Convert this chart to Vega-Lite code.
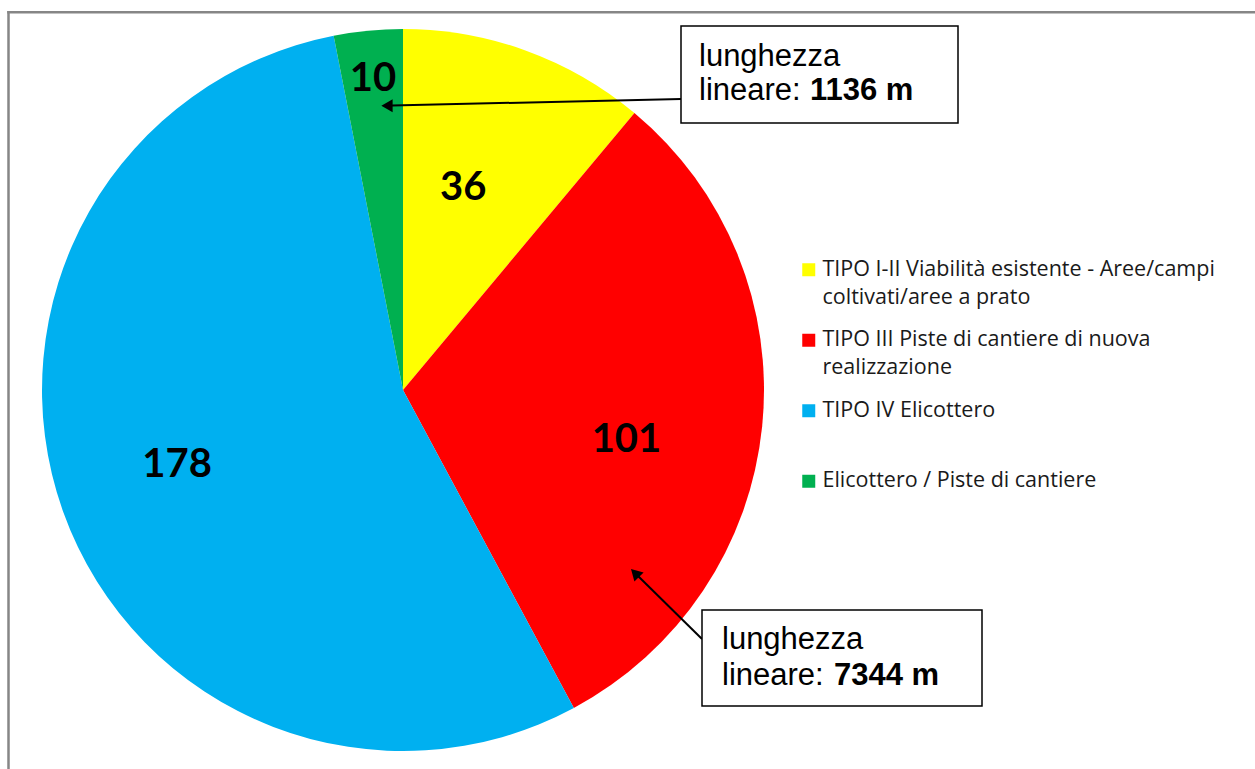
{
  "$schema": "https://vega.github.io/schema/vega-lite/v6.json",
  "width": 1255,
  "height": 769,
  "padding": 0,
  "autosize": {"type": "none"},
  "background": "white",
  "config": {"view": {"stroke": null}},
  "datasets": {
    "slices": [
      {"category": "TIPO I-II Viabilità esistente - Aree/campi coltivati/aree a prato", "value": 36, "ord": 1},
      {"category": "TIPO III Piste di cantiere di nuova realizzazione", "value": 101, "ord": 2},
      {"category": "TIPO IV Elicottero", "value": 178, "ord": 3},
      {"category": "Elicottero / Piste di cantiere", "value": 10, "ord": 4}
    ],
    "one": [{}]
  },
  "layer": [
    {
      "data": {"name": "one"},
      "mark": {"type": "rule", "color": "#868686", "strokeWidth": 2.5},
      "encoding": {
        "x": {"datum": 8.5, "type": "quantitative", "scale": {"domain": [0, 1255], "nice": false, "zero": false}, "axis": null},
        "y": {"datum": 11, "type": "quantitative", "scale": {"domain": [0, 769], "nice": false, "zero": false, "reverse": true}, "axis": null},
        "y2": {"datum": 769}
      }
    },
    {
      "data": {"name": "one"},
      "mark": {"type": "rule", "color": "#868686", "strokeWidth": 2.5},
      "encoding": {
        "x": {"datum": 7.25, "type": "quantitative"},
        "x2": {"datum": 1255},
        "y": {"datum": 12.3, "type": "quantitative"}
      }
    },
    {
      "data": {"name": "slices"},
      "mark": {"type": "arc", "outerRadius": 361},
      "encoding": {
        "x": {"datum": 403, "type": "quantitative"},
        "y": {"datum": 390, "type": "quantitative"},
        "theta": {"field": "value", "type": "quantitative", "stack": true},
        "order": {"field": "ord", "type": "quantitative"},
        "color": {
          "field": "category",
          "type": "nominal",
          "sort": null,
          "scale": {
            "domain": [
              "TIPO I-II Viabilità esistente - Aree/campi coltivati/aree a prato",
              "TIPO III Piste di cantiere di nuova realizzazione",
              "TIPO IV Elicottero",
              "Elicottero / Piste di cantiere"
            ],
            "range": ["#FFFF00", "#FF0000", "#00B0F0", "#00B050"]
          },
          "legend": {
            "orient": "none",
            "legendX": 798,
            "legendY": 259,
            "title": null,
            "padding": 0,
            "symbolType": "square",
            "symbolSize": 169,
            "symbolStrokeWidth": 0,
            "symbolOpacity": 1,
            "labelFont": "Open Sans",
            "labelFontSize": 21.5,
            "labelColor": "#1a1a1a",
            "labelOffset": 3,
            "labelLimit": 700,
            "rowPadding": 19.5,
            "labelExpr": "datum.label == 'TIPO I-II Viabilità esistente - Aree/campi coltivati/aree a prato' ? ['TIPO I-II Viabilità esistente - Aree/campi', 'coltivati/aree a prato'] : datum.label == 'TIPO III Piste di cantiere di nuova realizzazione' ? ['TIPO III Piste di cantiere di nuova', 'realizzazione'] : [datum.label, ' ']",
            "encode": {"labels": {"update": {"lineHeight": {"value": 28}}}}
          }
        }
      }
    },
    {
      "data": {"name": "slices"},
      "mark": {"type": "text", "radius": 211, "thetaOffset": -0.059, "font": "Lato", "fontWeight": "bold", "fontSize": 40, "color": "#000000", "align": "center", "baseline": "middle"},
      "encoding": {
        "x": {"datum": 403, "type": "quantitative"},
        "y": {"datum": 390, "type": "quantitative"},
        "theta": {"field": "value", "type": "quantitative", "stack": true},
        "order": {"field": "ord", "type": "quantitative"},
        "detail": {"field": "category", "type": "nominal"},
        "text": {"field": "value", "type": "quantitative"},
        "opacity": {"condition": {"test": "datum.ord == 1", "value": 1}, "value": 0}
      }
    },
    {
      "data": {"name": "slices"},
      "mark": {"type": "text", "radius": 229, "thetaOffset": 0.119, "font": "Lato", "fontWeight": "bold", "fontSize": 40, "color": "#000000", "align": "center", "baseline": "middle"},
      "encoding": {
        "x": {"datum": 403, "type": "quantitative"},
        "y": {"datum": 390, "type": "quantitative"},
        "theta": {"field": "value", "type": "quantitative", "stack": true},
        "order": {"field": "ord", "type": "quantitative"},
        "detail": {"field": "category", "type": "nominal"},
        "text": {"field": "value", "type": "quantitative"},
        "opacity": {"condition": {"test": "datum.ord == 2", "value": 1}, "value": 0}
      }
    },
    {
      "data": {"name": "slices"},
      "mark": {"type": "text", "radius": 238, "thetaOffset": 0.023, "font": "Lato", "fontWeight": "bold", "fontSize": 40, "color": "#000000", "align": "center", "baseline": "middle"},
      "encoding": {
        "x": {"datum": 403, "type": "quantitative"},
        "y": {"datum": 390, "type": "quantitative"},
        "theta": {"field": "value", "type": "quantitative", "stack": true},
        "order": {"field": "ord", "type": "quantitative"},
        "detail": {"field": "category", "type": "nominal"},
        "text": {"field": "value", "type": "quantitative"},
        "opacity": {"condition": {"test": "datum.ord == 3", "value": 1}, "value": 0}
      }
    },
    {
      "data": {"name": "slices"},
      "mark": {"type": "text", "radius": 312, "font": "Lato", "fontWeight": "bold", "fontSize": 40, "color": "#000000", "align": "center", "baseline": "middle"},
      "encoding": {
        "x": {"datum": 403, "type": "quantitative"},
        "y": {"datum": 390, "type": "quantitative"},
        "theta": {"field": "value", "type": "quantitative", "stack": true},
        "order": {"field": "ord", "type": "quantitative"},
        "detail": {"field": "category", "type": "nominal"},
        "text": {"field": "value", "type": "quantitative"},
        "opacity": {"condition": {"test": "datum.ord == 4", "value": 1}, "value": 0}
      }
    },
    {
      "data": {"name": "one"},
      "mark": {"type": "rule", "color": "#000000", "strokeWidth": 2},
      "encoding": {
        "x": {"datum": 681, "type": "quantitative"},
        "y": {"datum": 99, "type": "quantitative"},
        "x2": {"datum": 392},
        "y2": {"datum": 105.5}
      }
    },
    {
      "data": {"name": "one"},
      "mark": {"type": "point", "shape": "triangle-left", "filled": true, "color": "#000000", "opacity": 1, "size": 170},
      "encoding": {
        "x": {"datum": 387, "type": "quantitative"},
        "y": {"datum": 105.7, "type": "quantitative"}
      }
    },
    {
      "data": {"name": "one"},
      "mark": {"type": "rule", "color": "#000000", "strokeWidth": 2},
      "encoding": {
        "x": {"datum": 702, "type": "quantitative"},
        "y": {"datum": 639, "type": "quantitative"},
        "x2": {"datum": 637},
        "y2": {"datum": 575}
      }
    },
    {
      "data": {"name": "one"},
      "mark": {"type": "point", "shape": "triangle-up", "angle": -45, "filled": true, "color": "#000000", "opacity": 1, "size": 170},
      "encoding": {
        "x": {"datum": 635, "type": "quantitative"},
        "y": {"datum": 573, "type": "quantitative"}
      }
    },
    {
      "data": {"name": "one"},
      "mark": {"type": "rect", "fill": "#FFFFFF", "stroke": "#000000", "strokeWidth": 1.5},
      "encoding": {
        "x": {"datum": 681, "type": "quantitative"},
        "x2": {"datum": 958},
        "y": {"datum": 26, "type": "quantitative"},
        "y2": {"datum": 123}
      }
    },
    {
      "data": {"name": "one"},
      "mark": {"type": "rect", "fill": "#FFFFFF", "stroke": "#000000", "strokeWidth": 1.5},
      "encoding": {
        "x": {"datum": 702, "type": "quantitative"},
        "x2": {"datum": 982},
        "y": {"datum": 610, "type": "quantitative"},
        "y2": {"datum": 706}
      }
    },
    {
      "data": {"name": "one"},
      "mark": {"type": "text", "text": "lunghezza", "font": "Liberation Sans", "fontSize": 31, "align": "left", "baseline": "alphabetic", "color": "#000000"},
      "encoding": {"x": {"datum": 699, "type": "quantitative"}, "y": {"datum": 66, "type": "quantitative"}}
    },
    {
      "data": {"name": "one"},
      "mark": {"type": "text", "text": "lineare: ", "font": "Liberation Sans", "fontSize": 31, "align": "left", "baseline": "alphabetic", "color": "#000000"},
      "encoding": {"x": {"datum": 699, "type": "quantitative"}, "y": {"datum": 100, "type": "quantitative"}}
    },
    {
      "data": {"name": "one"},
      "mark": {"type": "text", "text": "1136 m", "font": "Liberation Sans", "fontWeight": "bold", "fontSize": 31, "align": "left", "baseline": "alphabetic", "color": "#000000"},
      "encoding": {"x": {"datum": 810, "type": "quantitative"}, "y": {"datum": 100, "type": "quantitative"}}
    },
    {
      "data": {"name": "one"},
      "mark": {"type": "text", "text": "lunghezza", "font": "Liberation Sans", "fontSize": 31, "align": "left", "baseline": "alphabetic", "color": "#000000"},
      "encoding": {"x": {"datum": 722, "type": "quantitative"}, "y": {"datum": 649, "type": "quantitative"}}
    },
    {
      "data": {"name": "one"},
      "mark": {"type": "text", "text": "lineare: ", "font": "Liberation Sans", "fontSize": 31, "align": "left", "baseline": "alphabetic", "color": "#000000"},
      "encoding": {"x": {"datum": 722, "type": "quantitative"}, "y": {"datum": 685, "type": "quantitative"}}
    },
    {
      "data": {"name": "one"},
      "mark": {"type": "text", "text": "7344 m", "font": "Liberation Sans", "fontWeight": "bold", "fontSize": 31, "align": "left", "baseline": "alphabetic", "color": "#000000"},
      "encoding": {"x": {"datum": 834, "type": "quantitative"}, "y": {"datum": 685, "type": "quantitative"}}
    }
  ]
}
